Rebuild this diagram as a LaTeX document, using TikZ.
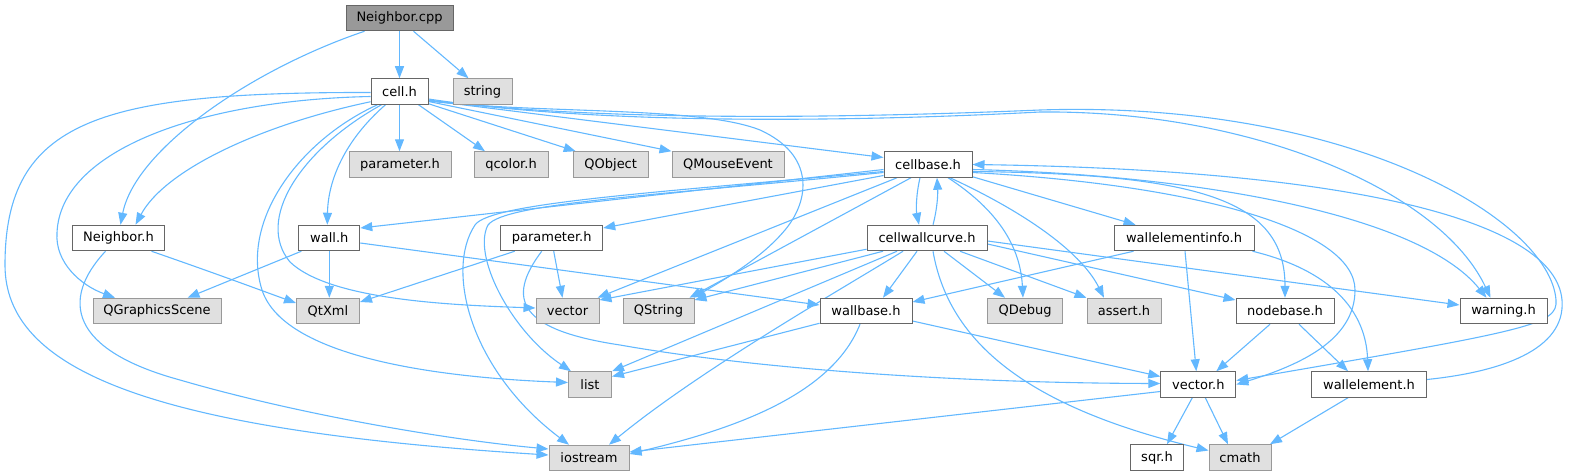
\documentclass[tikz,border=0pt]{standalone}
\usepackage{fontspec}
\setmainfont{DejaVu Sans}
\usetikzlibrary{arrows.meta,calc}
\definecolor{edgec}{HTML}{63B8FF}
\definecolor{gfill}{HTML}{E0E0E0}
\definecolor{gbord}{HTML}{999999}
\definecolor{dfill}{HTML}{999999}
\definecolor{dbord}{HTML}{666666}
\pgfdeclarelayer{bg}
\pgfsetlayers{bg,main}
\begin{document}
\begin{tikzpicture}[x=1pt,y=-1pt,
  nd/.style={rectangle,inner sep=0pt,minimum height=25.5pt,line width=1pt,font=\fontsize{13pt}{15pt}\selectfont},
  wn/.style={nd,fill=white,draw=dbord},
  gn/.style={nd,fill=gfill,draw=gbord},
  dn/.style={nd,fill=dfill,draw=dbord},
  lnk/.style={draw=edgec,line width=1.1pt,-{Triangle[length=12pt,width=9pt]}}]
\useasboundingbox (0,0) rectangle (1570,476);
% nodes
\node[dn,minimum width=107pt] (ncpp) at (399.5,18) {Neighbor.cpp};
\node[wn,minimum width=57pt] (cellh) at (399.5,91.5) {cell.h};
\node[gn,minimum width=59pt] (string) at (482.5,91.5) {string};
\node[gn,minimum width=102pt] (paramg) at (400,164.5) {parameter.h};
\node[gn,minimum width=74pt] (qcolor) at (511,164.5) {qcolor.h};
\node[gn,minimum width=75pt] (qobject) at (610.7,164.5) {QObject};
\node[gn,minimum width=112pt] (qmouse) at (728,164.5) {QMouseEvent};
\node[wn,minimum width=88pt] (cellb) at (928,164.5) {cellbase.h};
\node[wn,minimum width=92pt] (nbh) at (118.5,238) {Neighbor.h};
\node[wn,minimum width=61pt] (wallh) at (329.3,238) {wall.h};
\node[wn,minimum width=102pt] (paramw) at (551.7,238) {parameter.h};
\node[wn,minimum width=120pt] (cwc) at (927,238) {cellwallcurve.h};
\node[wn,minimum width=140pt] (weinfo) at (1184,238) {wallelementinfo.h};
\node[gn,minimum width=128pt] (qgs) at (157,311) {QGraphicsScene};
\node[gn,minimum width=63pt] (qtxml) at (328,311) {QtXml};
\node[gn,minimum width=63pt] (vector) at (567.5,311) {vector};
\node[gn,minimum width=71pt] (qstring) at (658.5,311) {QString};
\node[wn,minimum width=92pt] (wallbase) at (866,311) {wallbase.h};
\node[gn,minimum width=75pt] (qdebug) at (1025,311) {QDebug};
\node[gn,minimum width=74pt] (assert) at (1124,311) {assert.h};
\node[wn,minimum width=98pt] (nodebase) at (1285,311) {nodebase.h};
\node[wn,minimum width=87pt] (warning) at (1503.5,311) {warning.h};
\node[gn,minimum width=43pt] (list) at (590,384.5) {list};
\node[wn,minimum width=75pt] (vech) at (1198.3,384.5) {vector.h};
\node[wn,minimum width=115pt] (wallel) at (1369,384.5) {wallelement.h};
\node[gn,minimum width=80pt] (iostream) at (589,458) {iostream};
\node[wn,minimum width=53pt] (sqr) at (1157,457.5) {sqr.h};
\node[gn,minimum width=62pt] (cmath) at (1240,457.5) {cmath};
\begin{pgfonlayer}{bg}
% Neighbor.cpp
\draw[lnk] (ncpp.south) -- (cellh.north);
\draw[lnk] ($(ncpp.south)+(14,0)$) -- ($(string.north)+(-14,0)$);
\draw[lnk] ($(ncpp.south)+(-35,0)$) .. controls (250,70) and (135,150) .. ($(nbh.north)+(2,0)$);
% cell.h
\draw[lnk] ($(cellh.south west)+(0,-3)$) .. controls (260,125) and (165,170) .. ($(nbh.north)+(17,0)$);
\draw[lnk] ($(cellh.west)+(0,5)$) .. controls (200,100) and (60,150) .. (57,233) .. controls (55,262) and (80,285) .. ($(qgs.north)+(-42,0)$);
\draw[lnk] ($(cellh.west)+(0,1)$) .. controls (100,92) and (5,120) .. (5,265) .. controls (5,370) and (150,430) .. ($(iostream.west)+(0,-3)$);
\draw[lnk] ($(cellh.south)+(-14,0)$) .. controls (345,140) and (328,180) .. ($(wallh.north)+(-2,0)$);
\draw[lnk] ($(cellh.south)+(-22,0)$) .. controls (300,140) and (240,220) .. (262,290) .. controls (285,360) and (450,378) .. ($(list.west)+(0,-2)$);
\draw[lnk] ($(cellh.south)+(-18,0)$) .. controls (300,150) and (255,220) .. (290,262) .. controls (330,300) and (450,305) .. ($(vector.west)+(0,-3)$);
\draw[lnk] (cellh.south) -- (cellh.south |- paramg.north);
\draw[lnk] ($(cellh.south)+(19,0)$) -- ($(qcolor.north)+(-26,0)$);
\draw[lnk] ($(cellh.south east)+(0,-1)$) -- ($(qobject.north west)+(3,0)$);
\draw[lnk] ($(cellh.east)+(0,10)$) -- (qmouse.north west);
\draw[lnk] ($(cellh.east)+(0,9)$) -- ($(cellb.west)+(0,-7)$);
\draw[lnk] ($(cellh.east)+(0,9.5)$) .. controls (540,114) and (700,106) .. (760,130) .. controls (815,155) and (810,200) .. (785,230) .. controls (760,260) and (720,282) .. ($(qstring.north east)+(-1,0)$);
\draw[lnk] ($(cellh.east)+(0,7.5)$) .. controls (600,125) and (850,122) .. (1040,112) .. controls (1250,110) and (1440,190) .. ($(warning.north)+(-13,0)$);
\draw[lnk] ($(cellh.east)+(0,8.5)$) .. controls (600,122) and (850,118) .. (1040,110) .. controls (1350,100) and (1550,220) .. (1556,300) .. controls (1558,325) and (1530,330) .. ($(vech.east)+(0,-4)$);
% cellbase.h
\draw[lnk] ($(cellb.west)+(0,5)$) -- ($(wallh.east)+(0,-10)$);
\draw[lnk] ($(cellb.west)+(0,8)$) .. controls (650,196) and (505,203) .. (488,225) .. controls (472,255) and (510,330) .. ($(list.north west)+(3,0)$);
\draw[lnk] ($(cellb.west)+(0,7)$) .. controls (650,193) and (490,203) .. (475,225) .. controls (445,270) and (470,370) .. ($(iostream.north)+(-20,0)$);
\draw[lnk] ($(cellb.west)+(0,11)$) -- ($(paramw.east)+(0,-10)$);
\draw[lnk] ($(cellb.south)+(-31,0)$) -- ($(vector.north east)+(-2,0)$);
\draw[lnk] ($(cellb.south)+(-17,0)$) -- ($(qstring.north east)+(-5,0)$);
\draw[lnk] ($(cellb.south)+(-8,0)$) .. controls (916,195) and (916,210) .. ($(cwc.north)+(-8,0)$);
\draw[lnk] ($(cwc.north)+(6,0)$) .. controls (937,210) and (938,195) .. ($(cellb.south)+(9,0)$);
\draw[lnk] ($(cellb.south)+(20,0)$) .. controls (990,205) and (1020,240) .. ($(qdebug.north)+(-2,0)$);
\draw[lnk] ($(cellb.south)+(22,0)$) .. controls (1020,210) and (1080,250) .. ($(assert.north)+(-20,0)$);
\draw[lnk] ($(cellb.south east)+(0,-1)$) -- ($(weinfo.north west)+(22,0)$);
\draw[lnk] ($(cellb.east)+(0,7)$) .. controls (1200,174) and (1285,200) .. (nodebase.north);
\draw[lnk] ($(cellb.east)+(0,8)$) .. controls (1200,185) and (1355,230) .. (1355,290) .. controls (1355,340) and (1300,365) .. (vech.east);
\draw[lnk] ($(cellb.east)+(0,5)$) .. controls (1200,175) and (1420,215) .. ($(warning.north)+(-17,0)$);
% cellwallcurve.h
\draw[lnk] ($(cwc.south west)+(0,-2)$) -- ($(vector.east)+(0,-11)$);
\draw[lnk] ($(cwc.south)+(-44,0)$) -- ($(qstring.east)+(0,-11)$);
\draw[lnk] ($(cwc.south)+(-30,0)$) -- (list.north east);
\draw[lnk] ($(cwc.south)+(-24,0)$) .. controls (840,290) and (700,370) .. ($(iostream.north)+(20,0)$);
\draw[lnk] ($(cwc.south)+(-10,0)$) -- ($(wallbase.north)+(17,0)$);
\draw[lnk] ($(cwc.south)+(17,0)$) -- ($(qdebug.north)+(-20,0)$);
\draw[lnk] ($(cwc.south)+(33,0)$) -- (assert.north west);
\draw[lnk] ($(cwc.east)+(0,6)$) -- ($(nodebase.west)+(0,-11)$);
\draw[lnk] ($(cwc.east)+(0,3)$) -- ($(warning.west)+(0,-6)$);
\draw[lnk] ($(cwc.south)+(6,0)$) .. controls (950,350) and (1040,410) .. ($(cmath.west)+(0,-7)$);
% wallelementinfo.h
\draw[lnk] ($(weinfo.south west)+(20,0)$) -- ($(wallbase.east)+(0,-9)$);
\draw[lnk] ($(weinfo.south)+(1,0)$) -- ($(vech.north)+(-2,0)$);
\draw[lnk] ($(weinfo.south east)+(-2,0)$) .. controls (1330,270) and (1366,310) .. ($(wallel.north)+(-1,0)$);
% nodebase.h
\draw[lnk] ($(nodebase.south)+(-15,0)$) -- ($(vech.north)+(18,0)$);
\draw[lnk] ($(nodebase.south)+(14,0)$) -- ($(wallel.north)+(-21,0)$);
% vector.h
\draw[lnk] ($(vech.south)+(-6,0)$) -- ($(sqr.north)+(10,0)$);
\draw[lnk] ($(vech.south)+(7,0)$) -- ($(cmath.north)+(-12,0)$);
\draw[lnk] ($(vech.west)+(0,7)$) -- ($(iostream.east)+(0,-6)$);
% wallelement.h
\draw[lnk] ($(wallel.south)+(-21,0)$) -- ($(cmath.north)+(30,0)$);
\draw[lnk] ($(wallel.east)+(0,-5)$) .. controls (1500,372) and (1566,350) .. (1562,300) .. controls (1555,220) and (1350,170) .. (cellb.east);
% wallbase.h
\draw[lnk] ($(wallbase.south west)+(0,-1)$) -- ($(list.east)+(0,-8)$);
\draw[lnk] ($(wallbase.south)+(-6,0)$) .. controls (830,400) and (720,432) .. ($(iostream.east)+(0,-4)$);
\draw[lnk] ($(wallbase.east)+(0,10)$) -- ($(vech.west)+(0,-8)$);
% wall.h
\draw[lnk] ($(wallh.south west)+(3,0)$) -- ($(qgs.north east)+(-34,0)$);
\draw[lnk] (wallh.south) -- (wallh.south |- qtxml.north);
\draw[lnk] ($(wallh.east)+(0,5)$) -- ($(wallbase.west)+(0,-6)$);
% Neighbor.h
\draw[lnk] ($(nbh.south)+(33,0)$) .. controls (220,275) and (260,290) .. ($(qtxml.west)+(0,-8)$);
\draw[lnk] ($(nbh.south)+(-13,0)$) .. controls (60,300) and (70,350) .. (180,380) .. controls (300,415) and (450,440) .. ($(iostream.west)+(0,-9)$);
% parameter.h
\draw[lnk] ($(paramw.south)+(-37,0)$) -- ($(qtxml.east)+(0,-9)$);
\draw[lnk] ($(paramw.south)+(2,0)$) -- ($(vector.north)+(-5,0)$);
\draw[lnk] ($(paramw.south)+(-10,0)$) .. controls (505,300) and (520,330) .. (620,345) .. controls (750,368) and (950,383) .. ($(vech.west)+(0,-1)$);
\end{pgfonlayer}
\end{tikzpicture}
\end{document}
